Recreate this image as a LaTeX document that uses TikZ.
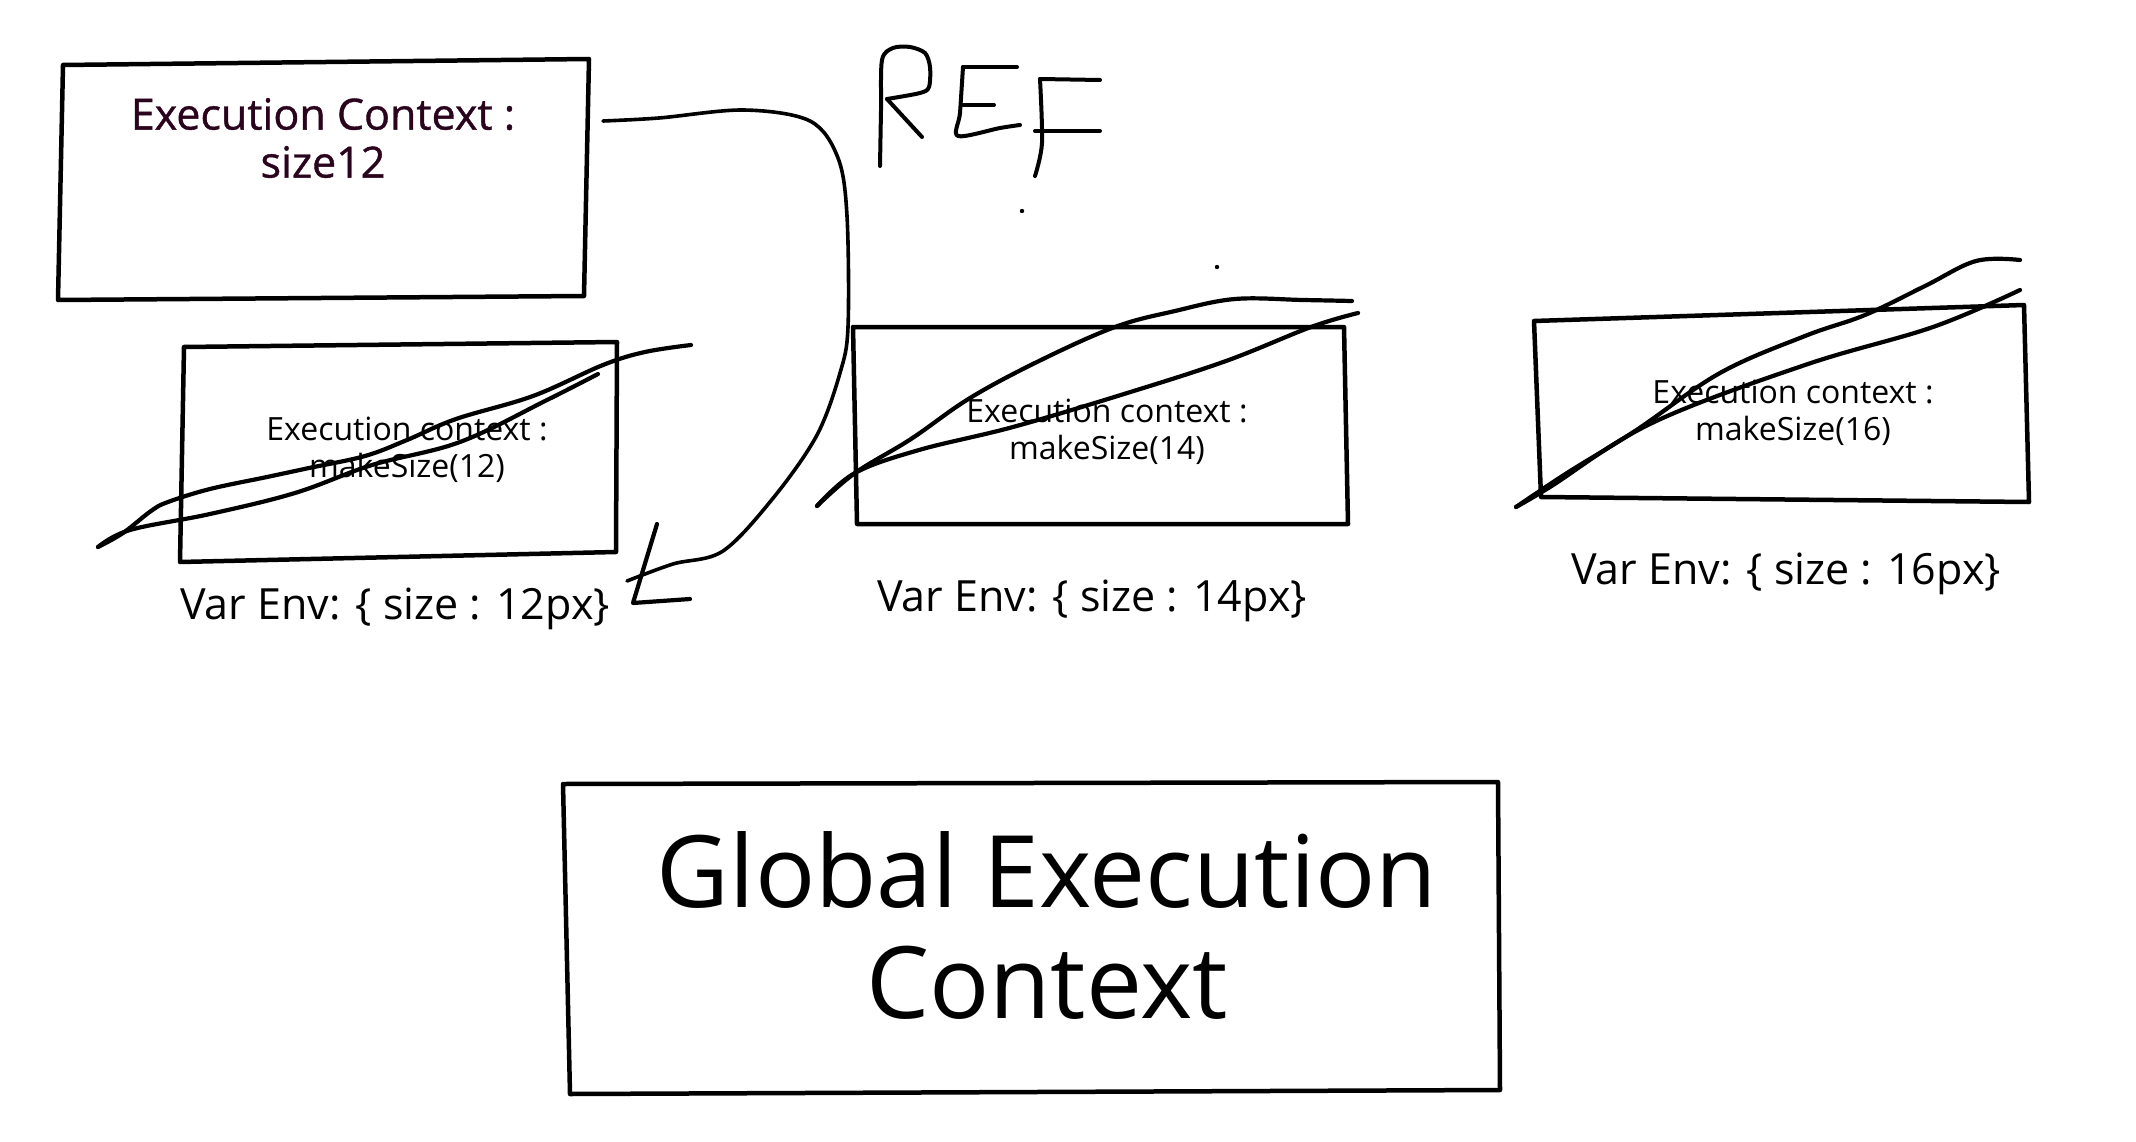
\documentclass[tikz,border=0pt]{standalone}
\usepackage{fontspec}
\setmainfont{Open Sans}
\newfontfamily\ectopfont[FakeBold=0.9]{Open Sans}
\definecolor{ectitle}{RGB}{42,4,28}
\begin{document}
\begin{tikzpicture}[x=1pt,y=-1pt,
  frame/.style={draw=black,line width=4.5pt,line join=round},
  pen/.style={draw=black,line width=4pt,line cap=round,line join=round},
  scrib/.style={draw=black,line width=4.2pt,line cap=round,line join=round},
  small/.style={inner sep=0pt,align=center,font=\fontsize{32}{37}\selectfont},
  varenv/.style={inner sep=0pt,anchor=base,font=\fontsize{43}{50}\selectfont},
]
\useasboundingbox[fill=white] (0,0) rectangle (2136,1142);

% top box
\draw[frame] (63,65) -- (589,59) -- (584,296) -- (58,300) -- cycle;
\node[inner sep=0pt,align=center,text=ectitle,font=\ectopfont\fontsize{43}{48}\selectfont] (ectop) at (323,138) {Execution Context :\\size12};

% box 2
\draw[frame] (184,347) -- (617,342) -- (616,552) -- (180,562) -- cycle;
\node[small] (ec12) at (407,450) {Execution context :\\makeSize(12)};
\node[varenv] (ve12) at (395,619) {Var Env: \{ size : 12px\}};

% box 3
\draw[frame] (853,327) -- (1344,327) -- (1348,524) -- (857,524) -- cycle;
\node[small] (ec14) at (1107,432) {Execution context :\\makeSize(14)};
\node[varenv] (ve14) at (1092,611) {Var Env: \{ size : 14px\}};

% box 4
\draw[frame] (1534,321) -- (2024,305) -- (2029,502) -- (1541,497) -- cycle;
\node[small] (ec16) at (1793,413) {Execution context :\\makeSize(16)};
\node[varenv] (ve16) at (1786,584) {Var Env: \{ size : 16px\}};

% global
\draw[frame] (563,784) -- (1498,782) -- (1500,1090) -- (570,1094) -- cycle;
\node[inner sep=0pt,align=center,font=\fontsize{100}{111}\selectfont] (gec) at (1047,925) {Global Execution\\Context};

% scribbles box 2
\draw[scrib] plot[smooth,tension=0.6] coordinates {(98,547) (123,533) (151,511) (168,502) (210,489) (267,477) (309,468) (365,456) (407,440) (456,419) (533,396) (603,365) (645,352) (691,345)};
\draw[scrib] plot[smooth,tension=0.6] coordinates {(98,547) (130,530) (210,514) (295,493) (372,465) (460,442) (547,400) (598,374)};
% scribbles box 3
\draw[scrib] plot[smooth,tension=0.6] coordinates {(817,506) (855,473) (911,439) (970,398) (1039,361) (1115,327) (1175,311) (1235,299) (1303,300) (1352,301)};
\draw[scrib] plot[smooth,tension=0.6] coordinates {(817,506) (855,473) (919,450) (1013,427) (1124,394) (1226,361) (1311,327) (1358,313)};
% scribbles box 4
\draw[scrib] plot[smooth,tension=0.6] coordinates {(1516,507) (1567,473) (1635,431) (1720,373) (1805,336) (1865,315) (1925,286) (1976,261) (2020,260)};
\draw[scrib] plot[smooth,tension=0.6] coordinates {(1516,507) (1550,487) (1652,423) (1805,365) (1933,327) (2020,290)};

% connector
\coordinate (cstart) at (603,121);
\coordinate (cend) at (627,581);
\draw[scrib,line width=3.6pt] plot[smooth,tension=0.55] coordinates {(cstart) (659,118) (744,110) (810,121) (838,158) (847,216) (848,327) (840,373) (817,435) (774,497) (723,551) (673,564) (cend)};
% L mark
\draw[scrib] (657,524) -- (633,603) -- (690,599);

% REF
\draw[pen] plot[smooth,tension=0.5] coordinates {(880,166) (881,110) (882,60) (893,48) (910,47) (925,53) (930,67) (929,87) (920,93) (887,99)};
\draw[pen] (887,99) -- (922,137);
\draw[pen] (963,67) -- (1017,67);
\draw[pen] plot[smooth,tension=0.5] coordinates {(963,67) (960,113) (958,136) (1000,128) (1020,125)};
\draw[pen] (963,105) -- (994,105);
\draw[pen] plot[smooth,tension=0.5] coordinates {(1040,79) (1042,143) (1035,176)};
\draw[pen] (1040,79) -- (1100,80);
\draw[pen] (1035,131) -- (1100,131);

% dots
\fill (1022,211) circle (2.2);
\fill (1217,267) circle (2.2);
\end{tikzpicture}
\end{document}
